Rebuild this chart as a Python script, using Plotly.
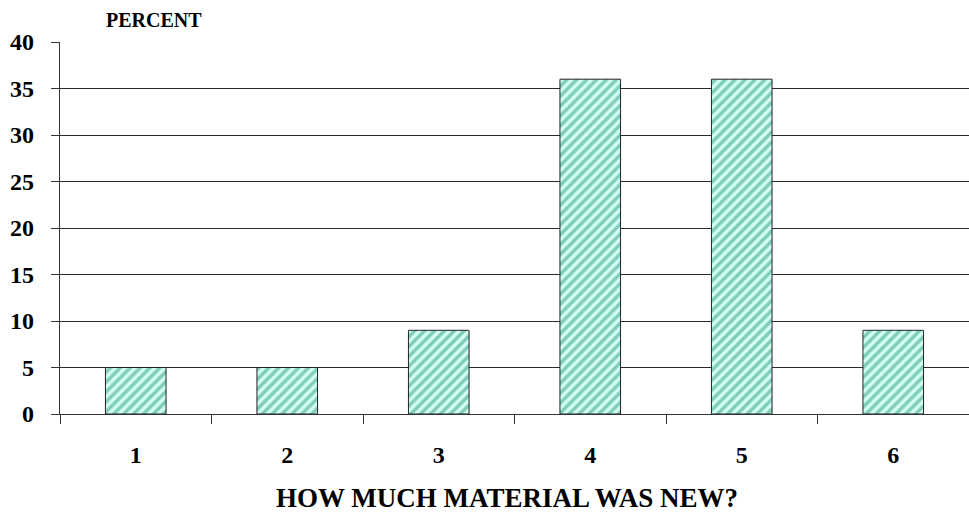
import plotly.graph_objects as go

categories = ["1", "2", "3", "4", "5", "6"]
percent = [5, 5, 9, 36, 36, 9]
y_ticks = [0, 5, 10, 15, 20, 25, 30, 35, 40]

font_family = "Liberation Serif, Times New Roman, serif"

W, H = 969, 516
ML, MR, MT, MB = 60, 0, 42, 102

fig = go.Figure()
fig.add_trace(go.Bar(
    x=categories,
    y=percent,
    width=0.4,
    marker=dict(
        color="#ccfff2",
        line=dict(color="#222222", width=1),
        pattern=dict(shape="/", fgcolor="#2f9a7e", bgcolor="#d2fff4", size=7, solidity=0.5),
    ),
))

plot_w = W - ML - MR
plot_h = H - MT - MB

fig.update_layout(
    width=W,
    height=H,
    margin=dict(l=ML, r=MR, t=MT, b=MB),
    paper_bgcolor="white",
    plot_bgcolor="white",
    showlegend=False,
    font=dict(family=font_family, color="black"),
    xaxis=dict(
        type="category",
        tickson="boundaries",
        ticks="outside",
        ticklen=9,
        tickcolor="#333333",
        tickwidth=1.2,
        showgrid=False,
        showline=True,
        linecolor="#333333",
        linewidth=1.3,
        tickfont=dict(size=24, family=font_family, color="black", weight="bold"),
        ticklabelstandoff=19,
        range=[-0.5, 5.5],
    ),
    yaxis=dict(
        range=[0, 40],
        tickvals=y_ticks,
        ticks="outside",
        ticklen=8,
        tickcolor="#333333",
        tickwidth=1.3,
        showgrid=True,
        gridcolor="#2a2a2a",
        gridwidth=1.3,
        showline=True,
        linecolor="#333333",
        linewidth=1.3,
        zeroline=False,
        tickfont=dict(size=24, family=font_family, color="black", weight="bold"),
        ticklabelstandoff=12,
    ),
    annotations=[
        dict(text="<b>PERCENT</b>", xref="paper", yref="paper",
             x=(154 - ML) / plot_w, y=(H - MB - 20) / plot_h,
             xanchor="center", yanchor="middle",
             showarrow=False, font=dict(size=20, family=font_family, color="black")),
        dict(text="<b>HOW MUCH MATERIAL WAS NEW?</b>", xref="paper", yref="paper",
             x=(507 - ML) / plot_w, y=(H - MB - 498) / plot_h,
             xanchor="center", yanchor="middle",
             showarrow=False, font=dict(size=27, family=font_family, color="black")),
    ],
)

fig.write_html("out.html", config={"displayModeBar": False})

# remove default page margin so the figure sits at the window's top-left corner
with open("out.html", "r", encoding="utf-8") as f:
    html = f.read()
html = html.replace("<body>", '<body style="margin:0;padding:0;">', 1)
with open("out.html", "w", encoding="utf-8") as f:
    f.write(html)
